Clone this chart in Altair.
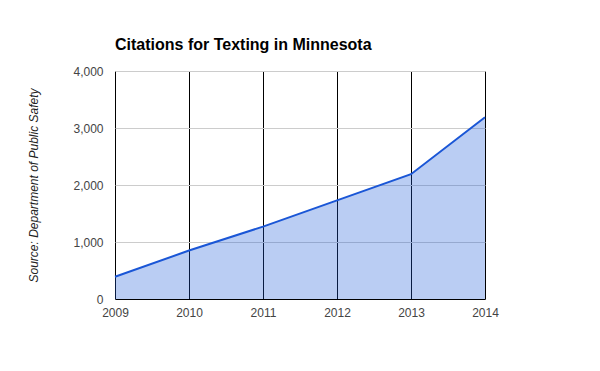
import altair as alt
import pandas as pd

years = [2009, 2010, 2011, 2012, 2013, 2014]
citations = [390, 850, 1270, 1730, 2190, 3190]
y_ticks = [0, 1000, 2000, 3000, 4000]

df = pd.DataFrame({"year": years, "citations": citations})

FONT = "Liberation Sans"

x_enc = alt.X(
    "year:Q",
    scale=alt.Scale(domain=[2009, 2014], nice=False, zero=False),
    axis=alt.Axis(
        values=years, format="d", grid=True, gridColor="black", gridOpacity=1,
        ticks=False, domainColor="black", labelFontSize=12, labelColor="#444444",
        labelFont=FONT, labelPadding=8, title=None, labelFlush=False,
    ),
)
y_enc = alt.Y(
    "citations:Q",
    scale=alt.Scale(domain=[0, 4000], nice=False),
    axis=alt.Axis(
        values=y_ticks, format=",d", grid=True, gridColor="#cccccc", domain=False,
        ticks=False, labelFontSize=12, labelColor="#444444", labelFont=FONT,
        labelPadding=12, title="Source: Department of Public Safety",
        titleFont=FONT, titleFontStyle="italic", titleFontWeight="normal",
        titleFontSize=12, titleColor="#222222", titlePadding=32,
    ),
)

base = alt.Chart(df).encode(x=x_enc, y=y_enc)
area = base.mark_area(color="#1c5ad8", opacity=0.3)
line = base.mark_line(color="#1a56d6", strokeWidth=2)

chart = (
    alt.layer(area, line)
    .properties(
        width=370,
        height=228,
        title=alt.TitleParams(
            "Citations for Texting in Minnesota", anchor="start", frame="group",
            fontSize=16, fontWeight="bold", font=FONT, color="black", offset=12,
        ),
        autosize=alt.AutoSizeParams(type="none"),
        padding={"left": 115, "top": 71, "right": 115, "bottom": 72},
    )
    .configure_view(stroke=None)
    .configure(background="white")
)

chart.save("out.html", embed_options={"renderer": "svg", "actions": False})
